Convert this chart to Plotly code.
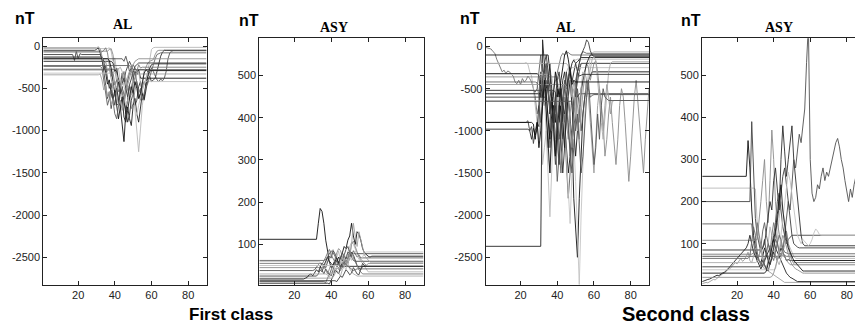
import plotly.graph_objects as go

# ---------------- data (nT), each series: flat level before start x, then values at unit steps, then flat to the end
al1_starts = [33, 36, 17, 32, 36, 40, 44, 31, 38, 33, 42, 29, 40, 48, 36, 30]
al1_values = [
    [-130, -180, -320, -450, -400, -560, -640, -520, -700, -860, -720, -950, -1130, -780, -600, -480, -520, -380, -300, -340, -280, -380],
    [-30, -20, -60, -180, -140, -300, -260, -420, -360, -480, -560, -400, -300, -260, -520, -720, -940, -1250, -980, -700, -560, -420, -300, -160, -40, -20, -15],
    [-100, -170, -60, -150, -90, -100, -100, -100, -100, -100, -100, -100, -100, -100, -100, -100, -140, -320, -480, -620, -540, -740, -600, -700, -520, -380, -460, -320, -420, -300, -240, -180, -230, -280],
    [-240, -260, -400, -560, -700, -620, -520, -650, -800, -860, -700, -560, -480, -620, -500, -400, -320, -280, -220, -260, -300, -280],
    [-60, -40, -30, -100, -250, -420, -380, -500, -620, -700, -560, -480, -600, -740, -680, -520, -440, -620, -560, -400, -300, -250, -200, -180, -170, -160, -100, -60, -50, -50],
    [-280, -300, -420, -560, -480, -620, -760, -900, -820, -640, -560, -700, -640, -480, -420, -560, -640, -520, -400, -360, -420, -400, -380, -300, -200, -120, -70, -50, -50],
    [-150, -180, -120, -200, -300, -260, -380, -460, -420, -560, -640, -500, -420, -480, -360, -300, -260, -300, -350, -400, -420, -390, -410, -380, -300, -150, -80, -60, -55],
    [-340, -330, -400, -520, -460, -600, -540, -700, -640, -560, -480, -620, -560, -440, -380, -420, -360, -300, -340, -330],
    [-180, -200, -300, -260, -420, -560, -500, -640, -800, -720, -860, -940, -700, -620, -800, -900, -700, -560, -620, -440, -360, -260, -220, -210],
    [-70, -50, -20, -80, -200, -360, -300, -460, -400, -540, -480, -380, -300, -420, -500, -640, -560, -440, -380, -300, -220, -260, -250],
    [-270, -250, -300, -420, -380, -500, -460, -580, -520, -400, -320, -300, -440, -520, -460, -380, -300, -290, -280, -285],
    [-50, -40, -20, -80, -160, -280, -240, -380, -500, -440, -620, -560, -700, -680, -520, -440, -380, -500, -600, -460, -380, -300, -240, -220, -200],
    [-320, -340, -420, -380, -520, -600, -700, -640, -540, -480, -600, -720, -820, -700, -600, -520, -440, -420, -410, -420],
    [-230, -260, -360, -300, -420, -560, -500, -640, -560, -480, -440, -360, -280, -200, -150, -100, -90, -80, -80],
    [-150, -170, -260, -420, -560, -500, -640, -720, -600, -840, -900, -760, -600, -480, -560, -420, -500, -620, -560, -420, -320, -280, -300, -290],
    [-20, -10, -30, -120, -220, -180, -300, -260, -400, -500, -420, -560, -700, -640, -760, -660, -520, -460, -380, -300, -220, -180, -160, -150],
]

asy1_starts = [31, 33, 32, 36, 35, 38, 30, 40, 25, 34, 37, 42, 44, 36]
asy1_values = [
    [112, 112, 150, 185, 178, 150, 110, 80, 60, 55, 50, 62, 58, 70, 65, 80, 95, 90, 110, 120, 150, 120, 100, 130, 125, 110, 90, 80, 75, 72, 70, 72],
    [60, 58, 50, 42, 55, 70, 62, 80, 88, 75, 70, 84, 60, 50, 65, 72, 80, 95, 105, 100, 88, 80, 72, 60, 55, 48, 40, 35],
    [25, 30, 40, 35, 50, 45, 60, 72, 68, 85, 78, 65, 55, 70, 60, 75, 88, 95, 82, 70, 62, 60],
    [12, 10, 20, 30, 25, 40, 55, 48, 60, 52, 45, 58, 70, 65, 80, 72, 85, 78, 70, 75, 68],
    [45, 48, 38, 30, 42, 55, 50, 68, 80, 90, 85, 72, 60, 50, 62, 75, 100, 108, 95, 82, 70, 65, 60, 55, 50, 55],
    [8, 6, 15, 25, 40, 35, 30, 45, 58, 50, 62, 55, 70, 82, 75, 60, 50, 45, 40, 48],
    [38, 40, 45, 52, 48, 38, 30, 42, 35, 28, 40, 52, 60, 48, 55, 70, 80, 72, 65, 82, 78],
    [20, 22, 30, 45, 40, 55, 70, 62, 55, 60, 72, 100, 150, 120, 95, 130, 110, 90, 75, 68, 62, 58],
    [18, 20, 22, 28, 30, 26, 32, 40, 35, 48, 56, 50, 62, 70, 58, 45, 52, 60, 68, 55, 48],
    [55, 52, 60, 70, 80, 88, 75, 65, 58, 50, 45, 38, 48, 60, 55, 70, 85, 78, 68, 60, 48, 40, 35, 30],
    [30, 28, 22, 35, 30, 45, 38, 30, 25, 40, 48, 60, 55, 42, 35, 30, 28, 25, 25],
    [14, 12, 18, 25, 22, 30, 40, 35, 28, 32, 45, 38, 30, 28, 40, 55, 50, 48],
    [50, 52, 60, 48, 40, 55, 70, 62, 78, 85, 72, 65, 60, 70, 80, 82],
    [62, 64, 70, 78, 85, 80, 72, 60, 52, 45, 50, 58, 52, 48, 45, 40, 38, 40, 42],
]

al2_starts = [1, 22, 30, 23, 24, 27, 31, 30, 36, 28, 33, 40, 35, 38, 44, 45, 29, 26, 47]
al2_values = [
    [-10, -15, -20, -30, -60, -80, -150, -200, -260, -300, -280, -320, -290, -300, -330, -350, -420, -440, -400, -450, -380, -420, -400, -350, -380, -420, -500, -600, -800, -700, -900, -650, -500, -400, -560, -700, -600, -500, -380, -300, -200, -120, -80, -100, -80, -70, -90, -100],
    [-200, -190, -210, -300, -350, -500, -700, -900, -1100, -800, -1400, -1200, -1000, -1300, -1500, -1100, -900, -1000, -1200, -1400, -1100, -800, -600, -700, -500, -300, -200, -150, -160, -150],
    [-2370, -2370, 80, -200, -500, -400, -800, -600, -1000, -700, -500, -900, -600, -400, -300, -500, -350, -250, -420, -300, -200, -180, -150, -130],
    [-900, -880, -1000, -950, -1150, -1000, -900, -950, -300, -600, -400, -800, -1200, -900, -600, -1000, -1400, -1100, -800, -500, -700, -900, -600, -400, -300, -500, -700, -550, -400, -300, -200],
    [-980, -1000, -1100, -970, -1050, -980, -700, -400, -600, -300, -200, -500, -800, -600, -1000, -1300, -900, -700, -1100, -1500, -1200, -800, -600, -900, -1100, -700, -500, -600, -560],
    [-520, -540, -500, -300, -100, -400, -700, -500, -900, -1200, -1000, -700, -1100, -1600, -1300, -900, -600, -1000, -1400, -1800, -1500, -1000, -700, -400, -300, -250, -200],
    [-560, -600, -500, -800, -1200, -1500, -1000, -700, -900, -600, -500, -800, -1100, -900, -1200, -1500, -1300, -1000, -1800, -2200, -2500, -1800, -1200, -800, -600, -500, -400, -350, -300, -300],
    [-640, -650, -300, -600, -1000, -1500, -2020, -1400, -900, -600, -400, -500, -700, -550, -400, -300, -250],
    [-330, -350, -500, -800, -600, -1000, -1400, -1200, -900, -1300, -1700, -2100, -1500, -1100, -1600, -2200, -2830, -2000, -1300, -800, -500, -300, -100, -80, -60],
    [-420, -430, -600, -900, -700, -400, -200, -500, -800, -1000, -800, -600, -900, -1200, -1500, -1100, -800, -600, -900, -1300, -1000, -700, -500, -300, -200, -100, -60, -70, -80],
    [-600, -620, -400, -200, -500, -900, -700, -1100, -1400, -1000, -700, -500, -300, -600, -900, -1200, -800, -500, -300, -200, -100, -50, 0, 80, 50, -50, -100, -120],
    [-360, -380, -500, -700, -600, -900, -1100, -800, -600, -400, -500, -700, -900, -600, -400, -300, -200, -250, -400, -300, -200, -170, -300, -500, -700, -900, -1300, -1100, -800, -600, -900, -1200, -1400, -1100, -700, -500, -600, -900, -1200, -1600, -1300, -900, -600, -400, -700, -1000, -1300, -1500, -1100, -800, -500],
    [-100, -300, -600, -900, -1300, -1000, -700, -500, -900, -1200, -800, -600, -400, -700, -1000, -1300, -1000, -700, -500, -400, -300, -200, -150, -100, -100],
    [-520, -540, -800, -1100, -900, -600, -400, -700, -1000, -1300, -1500, -1200, -800, -500, -700, -1000, -800, -600, -400, -500, -600, -580, -570],
    [-450, -470, -600, -900, -1200, -800, -600, -900, -1100, -800, -500, -300, -400, -600, -900, -1200, -1500, -1100, -700, -500, -800, -1000, -700, -450, -600, -800, -650, -640],
    [-200, -230, -400, -600, -500, -800, -1000, -700, -500, -300, -400, -600, -400, -250, -150, -120, -170, -400, -700, -900, -1100, -800, -500, -300, -200, -180],
    [-320, -340, -600, -400, -200, -100, -300, -500, -700, -900, -600, -400, -300, -500, -700, -800, -600, -400, -300, -200, -160, -200, -300, -350, -340, -330],
    [-900, -920, -1100, -900, -1200, -1000, -700, -400, -600, -900, -1100, -800, -500, -300, -450, -600, -400, -250, -100, -50, -150, -300, -450, -400, -420],
    [-650, -640, -800, -1000, -800, -1200, -1500, -1300, -900, -600, -400, -700, -1000, -1400, -1200, -800, -1100, -700, -500, -600, -620, -640],
]

asy2_starts = [25, 29, 26, 27, 30, 33, 44, 1, 1, 28, 30, 32, 40, 26, 35, 38]
asy2_values = [
    [260, 345, 280, 180, 120, 90, 70, 60, 55, 70, 90, 75, 60, 50, 65, 80, 70, 60, 75, 90, 80, 70, 60, 62, 60],
    [232, 230, 150, 110, 80, 60, 55, 70, 100, 140, 120, 90, 80, 110, 160, 200, 180, 150, 120, 100, 90, 80, 70, 65],
    [200, 200, 390, 250, 160, 120, 100, 80, 90, 110, 80, 60, 70, 90, 120, 150, 200, 220, 180, 140, 120, 100, 110, 115, 120],
    [147, 147, 100, 80, 60, 70, 90, 130, 150, 120, 100, 80, 70, 90, 110, 100, 80, 75, 70, 72, 70],
    [108, 110, 150, 200, 250, 300, 200, 150, 250, 370, 300, 200, 150, 120, 100, 80, 70, 60, 55, 50],
    [85, 90, 100, 130, 160, 200, 180, 250, 280, 220, 180, 300, 380, 320, 260, 300, 350, 380, 300, 250, 200, 150, 120, 100, 95],
    [70, 80, 120, 160, 200, 180, 240, 300, 280, 330, 360, 340, 380, 420, 530, 620, 300, 220, 200, 210, 240, 230, 260, 280, 250, 270, 260, 280, 300, 320, 340, 350, 330, 300, 280, 250, 220, 200, 230, 210, 240, 260, 250],
    [5, 6, 8, 7, 10, 12, 15, 14, 18, 22, 25, 28, 30, 35, 38, 40, 45, 50, 55, 52, 60, 65, 58, 62, 70, 80, 60, 55, 70, 90, 80, 60, 50, 45, 40, 38, 35, 30, 28, 25, 22, 20, 15, 12, 10, 8],
    [10, 12, 14, 15, 16, 18, 20, 22, 25, 24, 28, 30, 32, 35, 40, 45, 50, 55, 60, 65, 70, 75, 80, 85, 90, 100, 120, 100, 80, 70, 60, 50, 40, 50, 60, 70, 80, 90, 100, 110, 90, 80, 70, 60, 50, 40, 30, 25, 20, 18, 15, 12, 10],
    [75, 78, 100, 150, 120, 90, 70, 50, 40, 60, 80, 120, 150, 130, 100, 80, 70, 90, 110, 130, 100, 80, 60, 55, 55],
    [55, 58, 70, 90, 60, 45, 40, 55, 80, 100, 90, 70, 60, 50, 65, 80, 95, 110, 90, 70, 60, 52, 50],
    [45, 48, 60, 50, 40, 35, 50, 70, 90, 120, 150, 180, 220, 260, 280, 240, 200, 160, 120, 100, 95, 92, 90],
    [38, 40, 60, 80, 120, 160, 200, 240, 270, 250, 220, 180, 150, 120, 110, 100, 110, 105, 100, 95, 100, 110, 125, 135, 130, 122, 120, 120],
    [65, 70, 100, 140, 120, 80, 60, 50, 45, 60, 80, 100, 90, 70, 60, 80, 100, 120, 110, 90, 80, 78, 76],
    [30, 35, 50, 70, 90, 110, 130, 170, 200, 240, 180, 140, 110, 90, 80, 70, 60, 55, 50, 45, 40, 35, 35],
    [20, 22, 30, 45, 60, 80, 100, 120, 110, 90, 75, 60, 50, 45, 40, 38, 35, 32, 30, 30],
]

al_ticks = [0, -500, -1000, -1500, -2000, -2500]
asy_ticks = [100, 200, 300, 400, 500]
x_ticks = [20, 40, 60, 80]
panel_titles = ["AL", "ASY", "AL", "ASY"]
class_labels = ["First class", "Second class"]

# ---------------- styles
W, H = 855, 325
shades = ["#111111", "#b8b8b8", "#444444", "#5e5e5e", "#8a8a8a", "#2e2e2e", "#505050",
          "#a0a0a0", "#222222", "#777777", "#aaaaaa", "#3c3c3c", "#c2c2c2", "#666666",
          "#1a1a1a", "#909090", "#333333", "#0c0c0c", "#7a7a7a"]
al2_shades = ["#707070", "#b8b8b8", "#222222", "#444444", "#2e2e2e", "#5e5e5e", "#111111",
              "#bdbdbd", "#c4c4c4", "#666666", "#3c3c3c", "#8a8a8a", "#1a1a1a", "#505050",
              "#9a9a9a", "#aaaaaa", "#333333", "#0c0c0c", "#555555"]

panels = [
    (al1_starts, al1_values, 90, shades),
    (asy1_starts, asy1_values, 90, shades),
    (al2_starts, al2_values, 90, al2_shades),
    (asy2_starts, asy2_values, 90, shades),
]

fig = go.Figure()
for p, (starts, values, xend, cols) in enumerate(panels):
    sfx = "" if p == 0 else str(p + 1)
    for i, (x0, vals) in enumerate(zip(starts, values)):
        xs = list(range(x0, x0 + len(vals)))
        ys = list(vals)
        if x0 > 1:
            xs = [1] + xs
            ys = [vals[0]] + ys
        if xs[-1] < xend:
            xs.append(xend)
            ys.append(vals[-1])
        fig.add_trace(go.Scatter(x=xs, y=ys, mode="lines",
                                 line=dict(color=cols[i % len(cols)], width=0.9),
                                 xaxis="x" + sfx, yaxis="y" + sfx,
                                 showlegend=False, hoverinfo="skip"))

def px(x):
    return x / W

def py(y):
    return 1 - y / H

x_domains = [[px(43.3), px(206.5)], [px(259.3), px(423.5)], [px(485.7), px(649)], [px(702), 1.0]]
x_ranges = [[1, 90], [1, 90], [1, 90], [0.8, 84.5]]
y_ranges = [[-2820, 92], [5, 588], [-2823, 98], [3, 588]]
y_dom = [py(284.5), py(38.3)]
tick_font = dict(family="Arial, Liberation Sans, sans-serif", size=11, color="#222222")

layout = dict(width=W, height=H, margin=dict(l=0, r=0, t=0, b=0),
              paper_bgcolor="white", plot_bgcolor="white", showlegend=False)
for p in range(4):
    sfx = "" if p == 0 else str(p + 1)
    yt = al_ticks if p in (0, 2) else asy_ticks
    layout["xaxis" + sfx] = dict(domain=x_domains[p], range=x_ranges[p], anchor="y" + sfx,
                                 tickvals=x_ticks, ticktext=[str(v) for v in x_ticks],
                                 ticks="inside", ticklen=4, tickcolor="#222222",
                                 showline=True, linecolor="#222222", linewidth=1,
                                 mirror="ticks", showgrid=False, zeroline=False,
                                 tickfont=tick_font)
    layout["yaxis" + sfx] = dict(domain=y_dom, range=y_ranges[p], anchor="x" + sfx,
                                 tickvals=yt, ticktext=[str(v) for v in yt],
                                 ticks="inside", ticklen=4, tickcolor="#222222",
                                 showline=True, linecolor="#222222", linewidth=1,
                                 mirror=("ticks" if p < 3 else False),
                                 showgrid=False, zeroline=False, tickfont=tick_font)
fig.update_layout(**layout)

nt_pos = [(25, 19), (249, 20), (470, 19), (691, 20)]
title_pos = [(122, 25), (334, 28), (565, 28), (779, 28)]
class_pos = [(231, 314), (686, 314)]
for (x, y) in nt_pos:
    fig.add_annotation(text="<b>nT</b>", x=px(x), y=py(y), xref="paper", yref="paper",
                       showarrow=False, xanchor="center", yanchor="middle",
                       font=dict(family="Arial, Liberation Sans, sans-serif", size=16, color="#000000"))
for t, (x, y) in zip(panel_titles, title_pos):
    fig.add_annotation(text="<b>" + t + "</b>", x=px(x), y=py(y), xref="paper", yref="paper",
                       showarrow=False, xanchor="center", yanchor="middle",
                       font=dict(family="Times New Roman, Liberation Serif, serif", size=14, color="#000000"))
for t, (x, y), s in zip(class_labels, class_pos, [17, 20]):
    fig.add_annotation(text="<b>" + t + "</b>", x=px(x), y=py(y), xref="paper", yref="paper",
                       showarrow=False, xanchor="center", yanchor="middle",
                       font=dict(family="Arial, Liberation Sans, sans-serif", size=s, color="#000000"))

fig.write_html("out.html", config={"displayModeBar": False},
               post_script="document.body.style.margin='0px';document.body.style.overflow='hidden';")
